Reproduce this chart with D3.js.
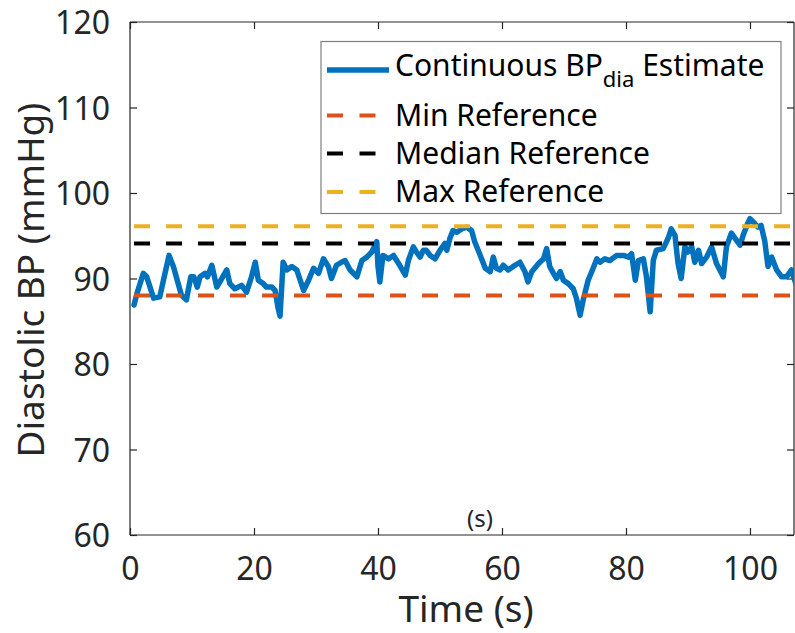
<!DOCTYPE html>
<html>
<head>
<meta charset="utf-8">
<script src="https://cdn.jsdelivr.net/npm/d3@7"></script>
<style>
  html, body { margin: 0; padding: 0; background: #fff; }
  svg { display: block; font-family: "Noto Sans", "Open Sans", sans-serif; }
</style>
</head>
<body>
<svg id="chart" width="795" height="633"></svg>
<script>
// ---- data ----
const timeS = [0.65,1.1,2.15,2.7,3.8,4.8,5.4,6.3,7.0,8.3,9.1,9.8,10.3,10.85,11.3,12.1,12.5,13.2,14.0,14.5,15.6,16.1,16.9,18.0,18.8,19.6,20.2,20.7,21.5,22.0,22.9,23.4,23.9,24.2,24.7,25.3,26.1,26.9,28.0,28.8,29.6,30.4,31.2,32.0,32.5,33.3,34.1,34.7,35.5,36.6,37.4,38.2,39.0,39.8,40.0,40.3,40.8,41.7,42.5,43.5,44.4,44.9,45.7,46.2,46.8,47.3,47.8,48.4,49.2,50.0,50.8,51.1,51.6,52.1,52.7,53.5,54.3,55.1,55.6,56.5,57.3,58.1,58.6,59.1,59.7,60.2,61.0,62.1,62.9,63.7,64.2,64.8,65.9,66.7,67.2,67.7,68.3,68.8,69.4,69.9,70.7,71.5,72.0,72.6,73.1,73.9,74.7,75.3,75.8,76.6,77.4,78.5,79.6,80.4,80.9,81.5,82.0,82.8,83.3,83.9,84.4,84.9,86.0,86.8,87.3,87.9,88.4,88.9,89.5,90.0,90.6,91.1,91.7,92.2,93.0,93.8,94.6,95.7,96.2,97.0,97.8,98.4,98.9,99.5,100.0,100.8,101.3,101.8,102.4,102.9,103.5,104.3,105.1,105.9,106.7,107.4];
const bpDia = [86.9,88.2,90.6,90.2,87.7,87.85,89.8,92.7,91.4,88.05,87.5,90.2,90.2,89.0,90.2,90.6,90.2,91.55,89.0,89.6,91.0,89.4,88.8,89.2,88.4,90.2,91.9,89.8,89.4,89.0,89.0,88.6,86.5,85.6,91.9,91.0,91.4,91.0,88.6,89.8,91.2,90.6,92.3,91.4,90.0,91.55,91.9,92.1,91.0,90.2,92.1,92.5,93.1,94.3,91.4,89.6,92.7,92.3,92.7,91.55,90.4,92.1,93.7,93.1,92.5,93.3,93.3,92.7,92.3,93.3,94.1,93.3,94.7,95.6,95.4,95.8,96.0,95.6,94.3,92.7,91.2,90.8,92.5,91.2,91.0,91.55,91.0,91.55,91.9,90.8,89.6,90.8,91.75,92.3,93.5,91.4,90.6,90.0,90.8,89.8,89.4,88.8,87.7,85.7,87.5,89.8,91.2,92.3,91.9,92.3,92.1,92.7,92.7,92.5,92.9,89.8,92.1,92.3,90.2,86.1,92.1,93.3,93.5,94.7,95.8,95.05,91.75,90.0,93.7,93.1,93.7,91.9,93.3,91.75,92.5,93.7,91.75,90.2,93.7,95.3,94.5,93.9,95.05,96.2,97.0,96.4,96.0,96.2,94.3,91.4,92.5,91.0,90.2,90.2,91.0,89.4];
const refNames = ["Min Reference", "Median Reference", "Max Reference"];
const refValues = [88, 94.1, 96.1];
const xTicks = [0, 20, 40, 60, 80, 100];
const yTicks = [60, 70, 80, 90, 100, 110, 120];

// ---- layout ----
const svg = d3.select("#chart");
const L = 130, R = 794, T = 22, B = 535;
const x = d3.scaleLinear().domain([0, 107.1]).range([L, R]);
const y = d3.scaleLinear().domain([60, 120]).range([B, T]);
const axisColor = "#262626";
const colors = ["#D95319", "#000000", "#EDB120"];
const blue = "#0072BD";

svg.append("defs").append("clipPath").attr("id", "clip")
  .append("rect").attr("x", L).attr("y", T).attr("width", R - L).attr("height", B - T);

// axes (box with inward ticks)
const tickLen = 7;
const gBottom = svg.append("g").attr("transform", `translate(0,${B})`)
  .call(d3.axisBottom(x).tickValues(xTicks).tickSize(-tickLen).tickPadding(22).tickSizeOuter(0));
const gTop = svg.append("g").attr("transform", `translate(0,${T})`)
  .call(d3.axisTop(x).tickValues(xTicks).tickSize(-tickLen).tickFormat("").tickSizeOuter(0));
const gLeft = svg.append("g").attr("transform", `translate(${L},0)`)
  .call(d3.axisLeft(y).tickValues(yTicks).tickSize(-tickLen).tickPadding(20).tickSizeOuter(0));
const gRight = svg.append("g").attr("transform", `translate(${R},0)`)
  .call(d3.axisRight(y).tickValues(yTicks).tickSize(-tickLen).tickFormat("").tickSizeOuter(0));
[gBottom, gTop, gLeft, gRight].forEach(g => {
  g.select(".domain").attr("stroke", axisColor).attr("stroke-width", 1.2);
  g.selectAll(".tick line").attr("stroke", axisColor).attr("stroke-width", 1.2);
  g.selectAll(".tick text").attr("fill", axisColor)
    .style("font-family", '"Noto Sans", sans-serif').style("font-size", "32px");
});
gBottom.select(".domain").attr("d", `M${L},0H${R}`);
gTop.select(".domain").attr("d", `M${L},0H${R}`);
gLeft.select(".domain").attr("d", `M0,${T}V${B}`);
gRight.select(".domain").attr("d", `M0,${T}V${B}`);
gLeft.selectAll(".tick text").attr("dy", "0.36em");
gBottom.selectAll(".tick text").attr("dy", "0.71em");

// data line
const plot = svg.append("g").attr("clip-path", "url(#clip)");
const data = timeS.map((t, i) => [t, bpDia[i]]);
plot.append("path").datum(data)
  .attr("fill", "none").attr("stroke", blue).attr("stroke-width", 5.5)
  .attr("stroke-linejoin", "round").attr("stroke-linecap", "round")
  .attr("d", d3.line().x(d => x(d[0])).y(d => y(d[1])));

// reference lines
refValues.forEach((v, i) => {
  plot.append("line")
    .attr("x1", x(timeS[0])).attr("x2", x(timeS[timeS.length - 1]))
    .attr("y1", y(v)).attr("y2", y(v))
    .attr("stroke", colors[i]).attr("stroke-width", 4)
    .attr("stroke-dasharray", "16,16");
});

// stray "(s)" label
svg.append("text").attr("x", 480).attr("y", 527).attr("text-anchor", "middle")
  .attr("fill", axisColor).style("font-size", "24px").text("(s)");

// axis labels
svg.append("text").attr("x", 466).attr("y", 622).attr("text-anchor", "middle")
  .attr("fill", axisColor).style("font-size", "37px").text("Time (s)");
svg.append("text").attr("transform", "translate(44,280) rotate(-90)").attr("text-anchor", "middle")
  .attr("fill", axisColor).style("font-size", "37px").text("Diastolic BP (mmHg)");

// legend
const lg = svg.append("g");
lg.append("rect").attr("x", 321).attr("y", 41.5).attr("width", 460).attr("height", 172)
  .attr("fill", "#fff").attr("stroke", "#7f7f7f").attr("stroke-width", 1.2);
const rowY = [70, 115.5, 153.5, 192];
lg.append("line").attr("x1", 327).attr("x2", 389).attr("y1", rowY[0]).attr("y2", rowY[0])
  .attr("stroke", blue).attr("stroke-width", 5.5);
const t0 = lg.append("text").attr("x", 395).attr("y", rowY[0] + 6).attr("fill", "#000").style("font-size", "30px");
t0.append("tspan").text("Continuous BP");
t0.append("tspan").attr("dy", 11).style("font-size", "22px").text("dia");
t0.append("tspan").attr("dy", -11).text(" Estimate");
refNames.forEach((n, i) => {
  const yy = rowY[i + 1];
  lg.append("line").attr("x1", 327).attr("x2", 376).attr("y1", yy).attr("y2", yy)
    .attr("stroke", colors[i]).attr("stroke-width", 4).attr("stroke-dasharray", "16,16.5");
  lg.append("text").attr("x", 395).attr("y", yy + 10).attr("fill", "#000")
    .style("font-size", "30px").text(n);
});
</script>
</body>
</html>
